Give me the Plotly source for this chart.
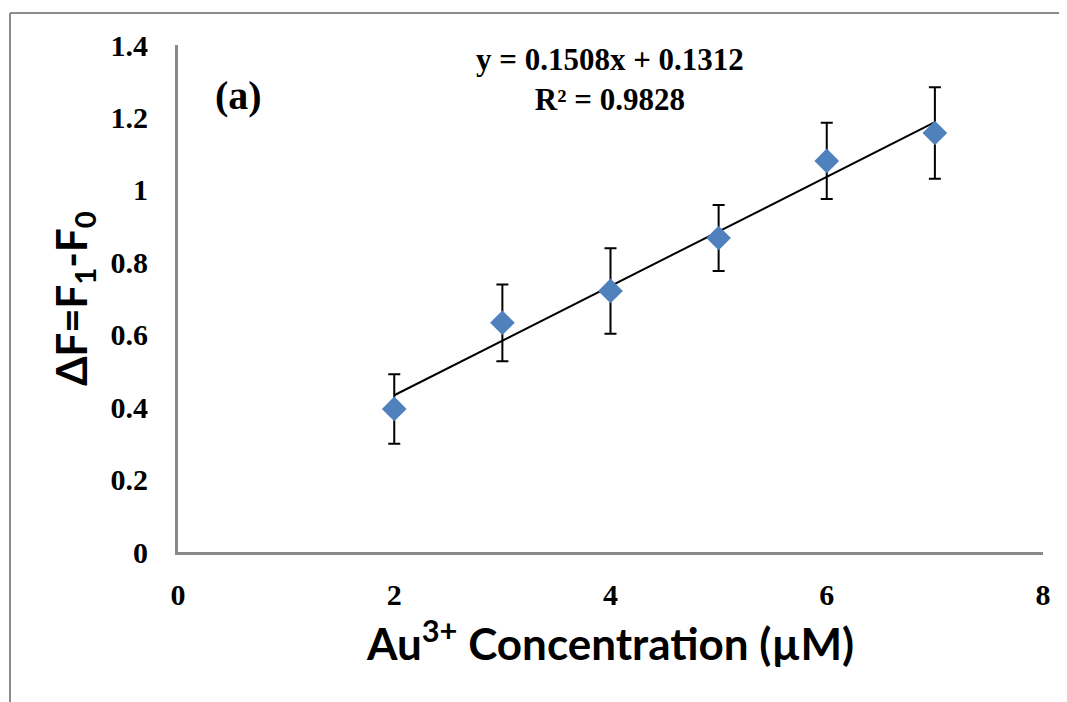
import plotly.graph_objects as go

conc = [2, 3, 4, 5, 6, 7]
delta_f = [0.395, 0.633, 0.721, 0.867, 1.080, 1.157]
err = [0.096, 0.106, 0.118, 0.091, 0.105, 0.126]
slope, intercept = 0.1508, 0.1312
fit_x = [2, 7]
x_ticks = [0, 2, 4, 6, 8]
y_ticks = [0, 0.2, 0.4, 0.6, 0.8, 1.0, 1.2, 1.4]
y_tick_text = ["0", "0.2", "0.4", "0.6", "0.8", "1", "1.2", "1.4"]

# page offset of the plot div (browser body margin)
OFF = 8
L, T = 178 - OFF, 45 - OFF
PW, PH = 865, 507

fig = go.Figure()
fig.add_trace(go.Scatter(
    x=fit_x, y=[slope * v + intercept for v in fit_x], mode="lines",
    line=dict(color="black", width=2), showlegend=False, hoverinfo="skip"))
fig.add_trace(go.Scatter(
    x=conc, y=delta_f, mode="markers",
    marker=dict(symbol="diamond", size=19, color="#4F81BD"),
    error_y=dict(type="data", array=err, visible=True, color="black",
                 thickness=2, width=6),
    showlegend=False))

tickfont = dict(family="Liberation Serif", size=30, color="black", weight="bold")
fig.update_layout(
    width=1067, height=702,
    margin=dict(l=L, r=1067 - L - PW, t=T, b=702 - T - PH),
    paper_bgcolor="white", plot_bgcolor="white",
    xaxis=dict(range=[0, 8], tickvals=x_ticks, showgrid=False, zeroline=False,
               showline=True, linecolor="#898989", linewidth=3,
               tickfont=tickfont, ticklabelstandoff=14,
               title=dict(text="Au<sup>3+</sup> Concentration (µM)",
                          font=dict(family="Lato", size=44, color="black", weight="bold"),
                          standoff=20)),
    yaxis=dict(range=[0, 1.4], tickvals=y_ticks, ticktext=y_tick_text,
               showgrid=False, zeroline=False,
               showline=True, linecolor="#898989", linewidth=3,
               tickfont=tickfont, ticklabelstandoff=21,
               title=dict(text="ΔF=F<sub>1</sub>-F<sub>0</sub>",
                          font=dict(family="Lato", size=42, color="black", weight="bold"),
                          standoff=10)),
    font=dict(family="Liberation Serif"),
)

def px(xp):
    return (xp - 178) / PW

def py(yp):
    return (552 - yp) / PH

fig.add_annotation(x=px(238), y=py(96), xref="paper", yref="paper",
                   xanchor="center", yanchor="middle",
                   text="<b>(a)</b>", showarrow=False,
                   font=dict(family="Liberation Serif", size=40, color="black"))
fig.add_annotation(x=px(610), y=py(79), xref="paper", yref="paper",
                   xanchor="center", yanchor="middle",
                   text=f"<b>y = {slope}x + {intercept}<br>R² = 0.9828</b>",
                   showarrow=False, align="center",
                   font=dict(family="Liberation Serif", size=31, color="black"))

# outer frame lines
fig.add_shape(type="line", xref="paper", yref="paper",
              x0=px(10), x1=px(1075), y0=py(13), y1=py(13),
              line=dict(color="#8c8c8c", width=2))
fig.add_shape(type="line", xref="paper", yref="paper",
              x0=px(10), x1=px(10), y0=py(13), y1=py(710),
              line=dict(color="#8c8c8c", width=2))

fig.write_html("out.html")
